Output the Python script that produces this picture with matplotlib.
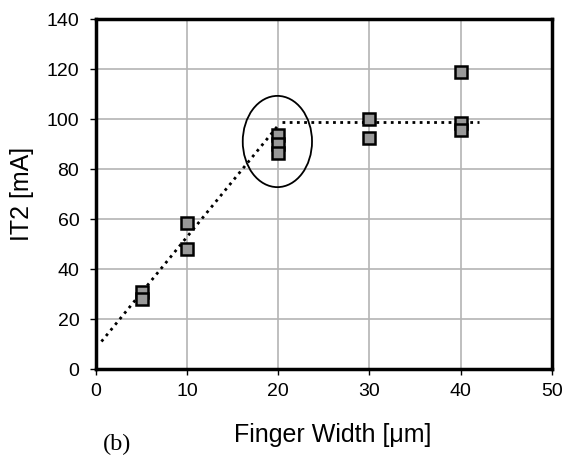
import matplotlib
matplotlib.use('Agg')
import matplotlib.pyplot as plt
from matplotlib.patches import Ellipse

# measured points
width = [5, 5, 10, 10, 20, 20, 20, 30, 30, 40, 40, 40]
it2 = [31, 28, 58.5, 48, 93.5, 90, 86.5, 100, 92.5, 119, 98.5, 95.5]

# guide lines (dotted)
rise_x = [0.6, 20]
rise_y = [11, 97.5]
flat_x = [20.4, 42]
flat_y = [98.8, 98.8]

plt.rcParams['font.family'] = ['Liberation Sans', 'DejaVu Sans']

fig = plt.figure(figsize=(5.63, 4.58), dpi=100)
ax = fig.add_axes([0.1705, 0.1943, 0.8095, 0.7642])

ax.grid(True, color='#b4b4b4', linewidth=1.2)
ax.set_axisbelow(True)

ax.plot(rise_x, rise_y, color='black', linestyle=(0, (1, 1.6)), linewidth=2)
ax.plot(flat_x, flat_y, color='black', linestyle=(0, (1, 1.6)), linewidth=2)

ax.plot(width, it2, linestyle='none', marker='s', markersize=9,
        markerfacecolor='#999999', markeredgecolor='black', markeredgewidth=1.8)

ax.add_patch(Ellipse((19.9, 91), 7.6, 36.5, fill=False, edgecolor='black', linewidth=1.3))

ax.set_xlim(0, 50)
ax.set_ylim(0, 140)
ax.set_xticks(range(0, 51, 10))
ax.set_yticks(range(0, 141, 20))
ax.tick_params(direction='out', length=4, width=1, labelsize=14)
ax.tick_params(axis='x', pad=6)
ax.tick_params(axis='y', pad=8)

for s in ax.spines.values():
    s.set_linewidth(2.5)

ax.set_xlabel('Finger Width [μm]', fontsize=18)
ax.set_ylabel('IT2 [mA]', fontsize=18)
ax.xaxis.set_label_coords(0.519, -0.155)
ax.yaxis.set_label_coords(-0.135, 0.5)

fig.text(0.182, 0.018, '(b)', fontsize=17.5, family='Liberation Serif', ha='left')

fig.savefig('out.png', dpi=100)
